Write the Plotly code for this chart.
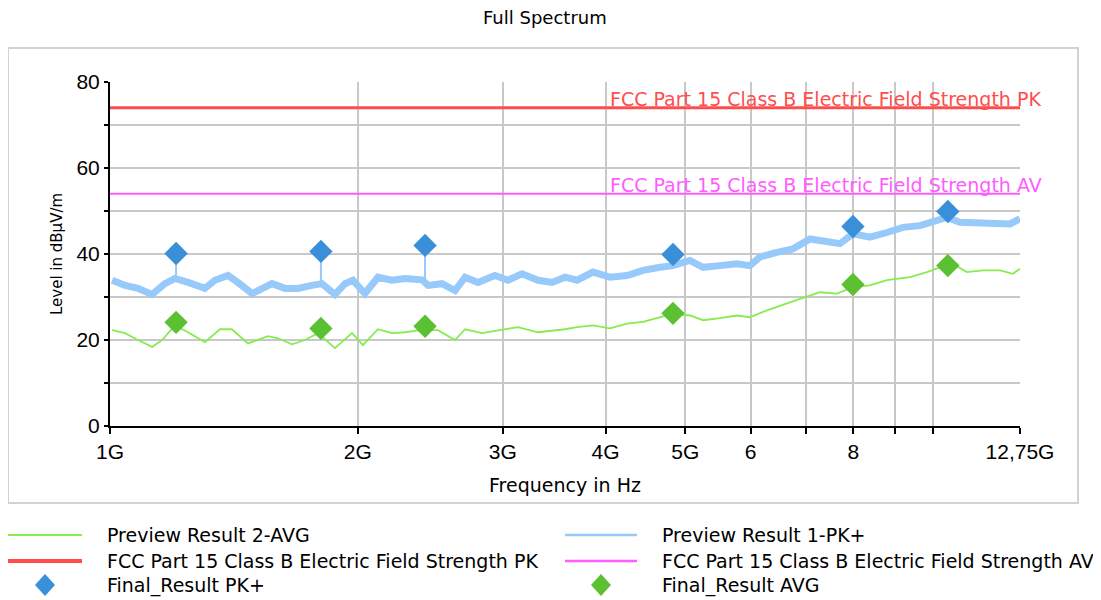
import plotly.graph_objects as go

# ---------------- data (frequency in GHz, level in dBuV/m) ----------------
pk_freq = [1.006, 1.043, 1.081, 1.125, 1.166, 1.199, 1.244, 1.304, 1.341, 1.391,
           1.430, 1.488, 1.543, 1.573, 1.632, 1.692, 1.759, 1.809, 1.876, 1.930,
           1.973, 2.040, 2.116, 2.201, 2.283, 2.393, 2.434, 2.531, 2.625, 2.700,
           2.799, 2.935, 3.044, 3.166, 3.311, 3.443, 3.571, 3.693, 3.862, 4.049,
           4.247, 4.441, 4.657, 4.830, 5.065, 5.253, 5.508, 5.776, 5.990, 6.160,
           6.460, 6.755, 7.085, 7.430, 7.705, 7.991, 8.380, 8.788, 9.190, 9.638,
           9.995, 10.39, 10.78, 11.30, 11.82, 12.40, 12.75]
pk_level = [33.9, 32.7, 32.0, 30.6, 33.1, 34.3, 33.4, 32.0, 33.9, 35.0,
            33.4, 30.8, 32.3, 33.1, 32.0, 32.0, 32.7, 33.1, 30.6, 33.1,
            33.9, 30.8, 34.6, 33.9, 34.3, 34.0, 32.7, 33.1, 31.5, 34.6,
            33.4, 35.0, 33.9, 35.4, 33.9, 33.4, 34.6, 33.9, 35.8, 34.6,
            35.0, 36.2, 36.9, 37.3, 38.5, 36.9, 37.3, 37.7, 37.3, 39.3,
            40.4, 41.2, 43.5, 43.1, 42.4, 44.7, 43.9, 45.0, 46.2, 46.6,
            47.4, 48.5, 47.4, 47.4, 47.0, 47.0, 48.2]

avg_freq = [1.006, 1.043, 1.081, 1.125, 1.157, 1.199, 1.244, 1.304, 1.360, 1.406,
            1.471, 1.556, 1.600, 1.664, 1.725, 1.789, 1.876, 1.968, 2.029, 2.116,
            2.201, 2.283, 2.380, 2.503, 2.625, 2.700, 2.830, 3.018, 3.130, 3.311,
            3.571, 3.693, 3.862, 4.049, 4.247, 4.441, 4.657, 4.830, 5.065, 5.253,
            5.508, 5.776, 5.990, 6.283, 6.643, 7.026, 7.287, 7.641, 7.991, 8.380,
            8.788, 9.372, 9.829, 10.19, 10.57, 10.99, 11.49, 12.06, 12.50, 12.75]
avg_level = [22.3, 21.6, 20.0, 18.4, 20.0, 23.4, 21.8, 19.5, 22.5, 22.5,
             19.2, 20.9, 20.4, 19.0, 20.0, 21.6, 18.1, 21.6, 18.8, 22.5,
             21.6, 21.8, 22.3, 22.3, 20.0, 22.5, 21.6, 22.5, 23.0, 21.8,
             22.5, 23.0, 23.4, 22.7, 23.8, 24.2, 25.3, 26.1, 25.7, 24.6,
             25.1, 25.7, 25.3, 26.9, 28.5, 30.0, 31.1, 30.8, 32.3, 32.7,
             33.9, 34.6, 35.8, 36.9, 37.7, 35.8, 36.2, 36.2, 35.4, 36.6]

final_freq = [1.203, 1.804, 2.414, 4.83, 7.99, 10.42]
final_pk = [40.1, 40.6, 42.0, 39.9, 46.4, 49.9]
final_pk_stem_base = [35.0, 33.0, 34.0, 38.0, 45.0, 48.0]
final_avg = [24.1, 22.7, 23.2, 26.2, 32.9, 37.3]

limit_freq = [1.0, 12.75]
limit_pk = [74.0, 74.0]
limit_av = [54.0, 54.0]

x_tickvals = [1, 2, 3, 4, 5, 6, 7, 8, 9, 10, 12.75]
x_ticktext = ["1G", "2G", "3G", "4G", "5G", "6", "", "8", "", "", "12,75G"]
y_tickvals = [0, 10, 20, 30, 40, 50, 60, 70, 80]
y_ticktext = ["0", "", "20", "", "40", "", "60", "", "80"]

# ---------------- colours ----------------
C_PK = "#97c9fa"
C_AVG = "#86ec50"
C_LPK = "#ff4d4d"
C_LAV = "#ff5cff"
C_FPK = "#3a90d8"
C_FAVG = "#5cc132"

FONT = "Liberation Sans"
FONT_W = "DejaVu Sans"

fig = go.Figure()

fig.add_trace(go.Scatter(x=limit_freq, y=limit_pk, mode="lines",
                         line=dict(color=C_LPK, width=3), hoverinfo="skip"))
fig.add_trace(go.Scatter(x=limit_freq, y=limit_av, mode="lines",
                         line=dict(color=C_LAV, width=2), hoverinfo="skip"))
fig.add_trace(go.Scatter(x=pk_freq, y=pk_level, mode="lines",
                         line=dict(color=C_PK, width=7)))
fig.add_trace(go.Scatter(x=avg_freq, y=avg_level, mode="lines",
                         line=dict(color=C_AVG, width=1.8)))

# stems from preview trace to final PK markers
sx, sy = [], []
for f, b, t in zip(final_freq, final_pk_stem_base, final_pk):
    sx += [f, f, None]
    sy += [b, t, None]
fig.add_trace(go.Scatter(x=sx, y=sy, mode="lines",
                         line=dict(color=C_PK, width=2), hoverinfo="skip"))

fig.add_trace(go.Scatter(x=final_freq, y=final_pk, mode="markers",
                         marker=dict(symbol="diamond", size=18, color=C_FPK)))
fig.add_trace(go.Scatter(x=final_freq, y=final_avg, mode="markers",
                         marker=dict(symbol="diamond", size=18, color=C_FAVG)))

# page has an 8px body margin: figure is placed at (8, 8)
OFF = 8
W, H = 1101 - OFF, 600 - OFF
# plot area in reference pixels: x 110..1020, y 82..426
L, T = 110 - OFF, 82 - OFF
R = W - (1020 - OFF)
B = H - (426 - OFF)
PW, PH = W - L - R, H - T - B


def px(x):  # reference pixel x -> paper
    return (x - OFF - L) / PW


def py(y):  # reference pixel y -> paper
    return (H - B - (y - OFF)) / PH


shapes = []
annotations = []

# outer frame
shapes.append(dict(type="rect", xref="paper", yref="paper",
                   x0=px(8), x1=px(1078), y0=py(503), y1=py(48),
                   line=dict(color="#d2d2d2", width=2), layer="below"))

# limit labels
annotations.append(dict(xref="paper", yref="y", x=px(608), y=limit_pk[0],
                        xanchor="left", yanchor="bottom", showarrow=False,
                        text="FCC Part 15 Class B Electric Field Strength PK",
                        font=dict(family=FONT_W, size=19, color=C_LPK), yshift=-4))
annotations.append(dict(xref="paper", yref="y", x=px(608), y=limit_av[0],
                        xanchor="left", yanchor="bottom", showarrow=False,
                        text="FCC Part 15 Class B Electric Field Strength AV",
                        font=dict(family=FONT_W, size=19, color=C_LAV), yshift=-4))

# title
annotations.append(dict(xref="paper", yref="paper", x=px(545), y=py(18),
                        xanchor="center", yanchor="middle", showarrow=False,
                        text="Full Spectrum",
                        font=dict(family=FONT_W, size=18, color="#000000")))

# legend (manual, two columns)
legend_items = [
    ("line", C_AVG, 2, "Preview Result 2-AVG", 0, 535),
    ("line", C_PK, 2.5, "Preview Result 1-PK+", 1, 535),
    ("line", C_LPK, 4, "FCC Part 15 Class B Electric Field Strength PK", 0, 561),
    ("line", C_LAV, 2.5, "FCC Part 15 Class B Electric Field Strength AV", 1, 561),
    ("diamond", C_FPK, 0, "Final_Result PK+", 0, 585),
    ("diamond", C_FAVG, 0, "Final_Result AVG", 1, 585),
]
col_line = [(8, 82, 105), (565, 637, 660)]
for kind, col, wdt, label, c, yy in legend_items:
    x0, x1, xt = col_line[c]
    if kind == "line":
        shapes.append(dict(type="line", xref="paper", yref="paper",
                           x0=px(x0), x1=px(x1), y0=py(yy), y1=py(yy),
                           line=dict(color=col, width=wdt)))
    else:
        cx = (x0 + x1) / 2
        path = "M {} {} L {} {} L {} {} L {} {} Z".format(
            px(cx), py(yy - 11), px(cx + 10), py(yy), px(cx), py(yy + 11), px(cx - 10), py(yy))
        shapes.append(dict(type="path", xref="paper", yref="paper", path=path,
                           fillcolor=col, line=dict(color=col, width=0)))
    annotations.append(dict(xref="paper", yref="paper", x=px(xt), y=py(yy),
                            xanchor="left", yanchor="middle", showarrow=False,
                            text=label, font=dict(family=FONT_W, size=19, color="#000000")))

fig.update_layout(
    width=W, height=H,
    margin=dict(l=L, r=R, t=T, b=B, pad=0),
    paper_bgcolor="white", plot_bgcolor="white",
    showlegend=False,
    shapes=shapes, annotations=annotations,
    font=dict(family=FONT, size=17, color="#000000"),
    xaxis=dict(type="log", range=[0, 1.10551], tickvals=x_tickvals, ticktext=x_ticktext,
               showgrid=True, gridcolor="#c8c8c8", gridwidth=1.5,
               showline=True, linecolor="#000000", linewidth=2,
               ticks="outside", ticklen=6, tickwidth=1.5, tickcolor="#000000",
               tickfont=dict(family=FONT, size=21),
               title=dict(text="Frequency in Hz", font=dict(family=FONT_W, size=19), standoff=16),
               zeroline=False),
    yaxis=dict(range=[0, 80], tickvals=y_tickvals, ticktext=y_ticktext,
               showgrid=True, gridcolor="#c8c8c8", gridwidth=1.5,
               showline=True, linecolor="#000000", linewidth=2,
               ticks="outside", ticklen=4, tickwidth=1.5, tickcolor="#000000",
               tickfont=dict(family=FONT, size=21),
               title=dict(text="Level in dBµV/m", font=dict(family=FONT_W, size=15), standoff=10),
               zeroline=False),
)

fig.write_html("out.html")
